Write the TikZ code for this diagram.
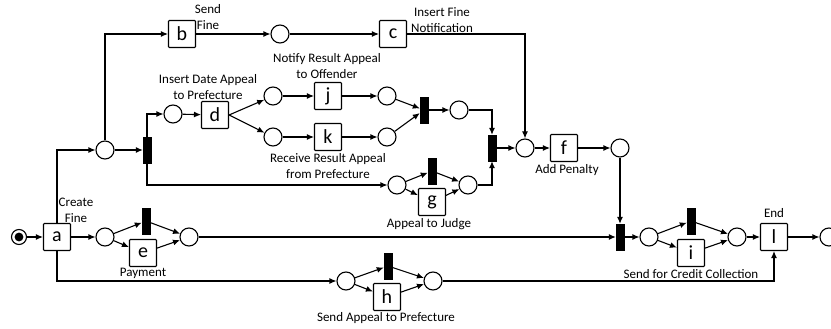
\documentclass[tikz,border=0pt]{standalone}
\usepackage{fontspec}
\setmainfont{Carlito}
\usetikzlibrary{arrows.meta}
\tikzset{
  place/.style={circle, draw, minimum size=18pt, inner sep=0pt, line width=1.1pt},
  trans/.style={draw, minimum width=27pt, minimum height=27pt, inner sep=0pt, line width=1.1pt, rounded corners=0.8pt, font=\fontsize{20}{20}\selectfont},
  bar/.style={fill=black, draw=black, minimum width=8pt, minimum height=26pt, inner sep=0pt},
  lbl/.style={font=\fontsize{13}{16}\selectfont, align=center, inner sep=0pt},
  arc/.style={line width=1.1pt, -{Latex[length=7pt,width=6pt]}},
}
\begin{document}
\begin{tikzpicture}[x=1pt,y=-1pt]
\useasboundingbox (0,0) rectangle (831,329);
% nodes
\node[place, minimum size=15pt] (p0) at (19,237) {};
\fill (p0) circle (4.4pt);
\node[trans] (a) at (57,237) {a};
\node[place] (pa) at (105,237) {};
\node[bar] (bare) at (146,221) {};
\node[trans] (e) at (143,253) {e};
\node[place] (pe) at (189,237) {};
\node[place] (pu) at (105,150) {};
\node[bar] (bard) at (147,150) {};
\node[trans] (b) at (182,34) {b};
\node[place] (pb) at (280,34) {};
\node[trans] (c) at (393,34) {c};
\node[place] (pd) at (173,114) {};
\node[trans] (d) at (215,115) {d};
\node[place] (pj1) at (273,96) {};
\node[place] (pk1) at (273,137) {};
\node[trans] (j) at (328,96) {j};
\node[trans] (k) at (328,137) {k};
\node[place] (pj2) at (387,96) {};
\node[place] (pk2) at (387,137) {};
\node[bar] (barjk) at (424,110) {};
\node[place] (pjk) at (459,110) {};
\node[bar] (barm) at (492,148) {};
\node[place] (pm) at (525,148) {};
\node[trans] (f) at (564,148) {f};
\node[place] (pf) at (620,148) {};
\node[place] (pg1) at (397,185) {};
\node[bar] (barg) at (432,171) {};
\node[trans] (g) at (432,202) {g};
\node[place] (pg2) at (468,185) {};
\node[bar] (barb) at (620,237) {};
\node[place] (pi1) at (649,237) {};
\node[bar] (bari) at (691,221) {};
\node[trans] (i) at (691,253) {i};
\node[place] (pi2) at (737,237) {};
\node[trans] (l) at (774,237) {l};
\node[place] (pend) at (829,237) {};
\node[place] (ph1) at (346,281) {};
\node[bar] (barh) at (388,266) {};
\node[trans] (h) at (387,297) {h};
\node[place] (ph2) at (433,281) {};
% labels
\node[lbl] (lcreate) at (76,210) {Create\\Fine};
\node[lbl] (lsend) at (208,17) {Send\\Fine};
\node[lbl] (lins) at (442,20) {Insert Fine\\Notification};
\node[lbl] (ldate) at (208,87) {Insert Date Appeal\\to Prefecture};
\node[lbl] (lnotify) at (327,66) {Notify Result Appeal\\to Offender};
\node[lbl] (lrecv) at (328,166) {Receive Result Appeal\\from Prefecture};
\node[lbl] (ljudge) at (429,224) {Appeal to Judge};
\node[lbl] (lpen) at (567,170) {Add Penalty};
\node[lbl] (lpay) at (143,273) {Payment};
\node[lbl] (lsap) at (386,318) {Send Appeal to Prefecture};
\node[lbl] (lscc) at (691,274) {Send for Credit Collection};
\node[lbl] (lend) at (774,213) {End};
% arcs
\draw[arc] (p0) -- (a);
\draw[arc] (a) -- (pa);
\draw[arc] (pa) -- (bare);
\draw[arc] (pa) -- (e);
\draw[arc] (bare) -- (pe);
\draw[arc] (e) -- (pe);
\draw[arc] (pe) -- (barb);
\draw[arc] (a.north) |- (pu);
\draw[arc] (pu) -- (bard);
\draw[arc] (pu.north) |- (b);
\draw[arc] (b) -- (pb);
\draw[arc] (pb) -- (c);
\draw[arc] (c.east) -| (pm.north);
\draw[arc] (bard.north) |- (pd);
\draw[arc] (pd) -- (d);
\draw[arc] (d.east) -- (pj1);
\draw[arc] (d.east) -- (pk1);
\draw[arc] (pj1) -- (j);
\draw[arc] (pk1) -- (k);
\draw[arc] (j) -- (pj2);
\draw[arc] (k) -- (pk2);
\draw[arc] (pj2) -- (barjk);
\draw[arc] (pk2) -- (barjk);
\draw[arc] (barjk) -- (pjk);
\draw[arc] (pjk.east) -| (barm.north);
\draw[arc] (bard.south) |- (pg1);
\draw[arc] (pg1) -- (barg);
\draw[arc] (pg1) -- (g);
\draw[arc] (barg) -- (pg2);
\draw[arc] (g) -- (pg2);
\draw[arc] (pg2.east) -| (barm.south);
\draw[arc] (barm) -- (pm);
\draw[arc] (pm) -- (f);
\draw[arc] (f) -- (pf);
\draw[arc] (pf) -- (barb);
\draw[arc] (barb) -- (pi1);
\draw[arc] (pi1) -- (bari);
\draw[arc] (pi1) -- (i);
\draw[arc] (bari) -- (pi2);
\draw[arc] (i) -- (pi2);
\draw[arc] (pi2) -- (l);
\draw[arc] (l) -- (pend);
\draw[arc] (a.south) |- (ph1);
\draw[arc] (ph1) -- (barh);
\draw[arc] (ph1) -- (h);
\draw[arc] (barh) -- (ph2);
\draw[arc] (h) -- (ph2);
\draw[arc] (ph2.east) -| (l.south);
\end{tikzpicture}
\end{document}
